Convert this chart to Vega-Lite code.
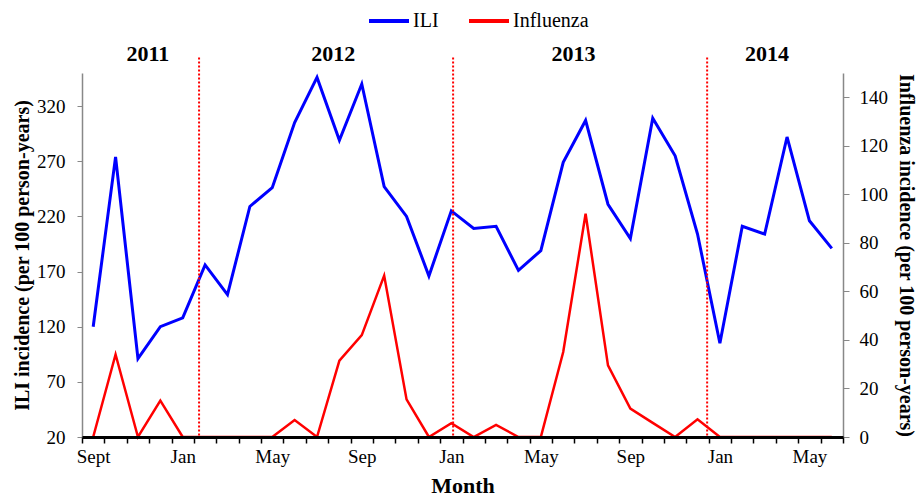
{
  "$schema": "https://vega.github.io/schema/vega-lite/v6.json",
  "width": 761,
  "height": 364,
  "autosize": {"type": "none"},
  "padding": {"left": 82, "top": 73, "right": 78, "bottom": 63},
  "background": "white",
  "config": {
    "view": {"stroke": null},
    "font": "Liberation Serif",
    "axis": {"labelFont": "Liberation Serif", "titleFont": "Liberation Serif", "labelColor": "black", "titleColor": "black", "grid": false},
    "legend": {"labelFont": "Liberation Serif"}
  },
  "datasets": {
    "monthly": [
      {"month": "2011-09", "ILI": 120, "Influenza": 0},
      {"month": "2011-10", "ILI": 274, "Influenza": 34},
      {"month": "2011-11", "ILI": 91, "Influenza": 0},
      {"month": "2011-12", "ILI": 120, "Influenza": 15},
      {"month": "2012-01", "ILI": 128, "Influenza": 0},
      {"month": "2012-02", "ILI": 176, "Influenza": 0},
      {"month": "2012-03", "ILI": 149, "Influenza": 0},
      {"month": "2012-04", "ILI": 229, "Influenza": 0},
      {"month": "2012-05", "ILI": 246, "Influenza": 0},
      {"month": "2012-06", "ILI": 305, "Influenza": 7},
      {"month": "2012-07", "ILI": 346, "Influenza": 0},
      {"month": "2012-08", "ILI": 289, "Influenza": 31.5},
      {"month": "2012-09", "ILI": 340, "Influenza": 42},
      {"month": "2012-10", "ILI": 247, "Influenza": 66.5},
      {"month": "2012-11", "ILI": 220, "Influenza": 15.5},
      {"month": "2012-12", "ILI": 166, "Influenza": 0},
      {"month": "2013-01", "ILI": 225, "Influenza": 5.7},
      {"month": "2013-02", "ILI": 209, "Influenza": 0},
      {"month": "2013-03", "ILI": 211, "Influenza": 5},
      {"month": "2013-04", "ILI": 171, "Influenza": 0},
      {"month": "2013-05", "ILI": 189, "Influenza": 0},
      {"month": "2013-06", "ILI": 269, "Influenza": 35},
      {"month": "2013-07", "ILI": 307, "Influenza": 92},
      {"month": "2013-08", "ILI": 231, "Influenza": 29.5},
      {"month": "2013-09", "ILI": 200, "Influenza": 11.7},
      {"month": "2013-10", "ILI": 309, "Influenza": 5.8},
      {"month": "2013-11", "ILI": 275, "Influenza": 0},
      {"month": "2013-12", "ILI": 204, "Influenza": 7.3},
      {"month": "2014-01", "ILI": 105, "Influenza": 0},
      {"month": "2014-02", "ILI": 211, "Influenza": 0},
      {"month": "2014-03", "ILI": 204, "Influenza": 0},
      {"month": "2014-04", "ILI": 292, "Influenza": 0},
      {"month": "2014-05", "ILI": 216, "Influenza": 0},
      {"month": "2014-06", "ILI": 191, "Influenza": 0}
    ]
  },
  "data": {"name": "monthly"},
  "layer": [
    {
      "layer": [
        {
          "mark": {"type": "line", "strokeWidth": 3},
          "encoding": {
            "x": {
              "field": "month",
              "type": "ordinal",
              "scale": {"type": "band", "paddingInner": 0, "paddingOuter": 0},
              "bandPosition": 0.5,
              "axis": {
                "title": "Month",
                "titleFontSize": 22,
                "titleFontWeight": "bold",
                "titlePadding": 9,
                "labelExpr": "datum.value == '2011-09' ? 'Sept' : substring(datum.value, 5, 7) == '01' ? 'Jan' : substring(datum.value, 5, 7) == '05' ? 'May' : substring(datum.value, 5, 7) == '09' ? 'Sep' : ''",
                "labelAngle": 0,
                "labelFontSize": 19,
                "labelPadding": 4,
                "labelOverlap": false,
                "tickBand": "extent",
                "tickSize": 6,
                "tickColor": "black",
                "tickWidth": 1.5,
                "domainColor": "black",
                "domainWidth": 3,
                "zindex": 1
              }
            },
            "y": {
              "field": "ILI",
              "type": "quantitative",
              "scale": {"domain": [20, 350], "nice": false, "zero": false},
              "axis": {
                "orient": "left",
                "title": "ILI incidence (per 100 person-years)",
                "titleFontSize": 20,
                "titleFontWeight": "bold",
                "titlePadding": 4,
                "values": [20, 70, 120, 170, 220, 270, 320],
                "labelFontSize": 19,
                "labelPadding": 12,
                "tickSize": 5,
                "tickColor": "#888888",
                "domainColor": "#888888",
                "domainWidth": 1.5
              }
            },
            "color": {
              "datum": "ILI",
              "scale": {"domain": ["ILI", "Influenza"], "range": ["#0000FF", "#FF0000"]},
              "legend": {
                "title": null,
                "orient": "none",
                "direction": "horizontal",
                "legendX": 285,
                "legendY": -74,
                "padding": 0,
                "symbolType": "stroke",
                "symbolSize": 1600,
                "symbolStrokeWidth": 4,
                "labelFontSize": 20,
                "labelColor": "black",
                "labelOffset": 2,
                "columnPadding": 22
              }
            }
          }
        },
        {
          "data": {"values": [{"month": "2012-02"}]},
          "mark": {"type": "rule", "color": "#FF0000", "strokeDash": [2, 2], "strokeWidth": 2},
          "encoding": {
            "x": {"field": "month", "type": "ordinal", "bandPosition": 0.23},
            "y": {"datum": 364},
            "y2": {"datum": 20}
          }
        },
        {
          "data": {"values": [{"month": "2013-01"}]},
          "mark": {"type": "rule", "color": "#FF0000", "strokeDash": [2, 2], "strokeWidth": 2},
          "encoding": {
            "x": {"field": "month", "type": "ordinal", "bandPosition": 0.58},
            "y": {"datum": 364},
            "y2": {"datum": 20}
          }
        },
        {
          "data": {"values": [{"month": "2013-12"}]},
          "mark": {"type": "rule", "color": "#FF0000", "strokeDash": [2, 2], "strokeWidth": 2},
          "encoding": {
            "x": {"field": "month", "type": "ordinal", "bandPosition": 0.93},
            "y": {"datum": 364},
            "y2": {"datum": 20}
          }
        },
        {
          "data": {"values": [{"month": "2011-11", "year": "2011"}]},
          "mark": {"type": "text", "fontSize": 22, "fontWeight": "bold", "baseline": "middle", "color": "black"},
          "encoding": {
            "x": {"field": "month", "type": "ordinal", "bandPosition": 0.94},
            "y": {"datum": 367},
            "text": {"field": "year"}
          }
        },
        {
          "data": {"values": [{"month": "2012-08", "year": "2012"}]},
          "mark": {"type": "text", "fontSize": 22, "fontWeight": "bold", "baseline": "middle", "color": "black"},
          "encoding": {
            "x": {"field": "month", "type": "ordinal", "bandPosition": 0.23},
            "y": {"datum": 367},
            "text": {"field": "year"}
          }
        },
        {
          "data": {"values": [{"month": "2013-06", "year": "2013"}]},
          "mark": {"type": "text", "fontSize": 22, "fontWeight": "bold", "baseline": "middle", "color": "black"},
          "encoding": {
            "x": {"field": "month", "type": "ordinal", "bandPosition": 0.96},
            "y": {"datum": 367},
            "text": {"field": "year"}
          }
        },
        {
          "data": {"values": [{"month": "2014-03", "year": "2014"}]},
          "mark": {"type": "text", "fontSize": 22, "fontWeight": "bold", "baseline": "middle", "color": "black"},
          "encoding": {
            "x": {"field": "month", "type": "ordinal", "bandPosition": 0.61},
            "y": {"datum": 367},
            "text": {"field": "year"}
          }
        }
      ]
    },
    {
      "mark": {"type": "line", "strokeWidth": 2.5},
      "encoding": {
        "x": {"field": "month", "type": "ordinal", "bandPosition": 0.5},
        "y": {
          "field": "Influenza",
          "type": "quantitative",
          "scale": {"domain": [0, 150], "nice": false},
          "axis": {
            "orient": "right",
            "title": "Influenza incidence (per 100 person-years)",
            "titleFontSize": 20,
            "titleFontWeight": "bold",
            "titlePadding": 8,
            "values": [0, 20, 40, 60, 80, 100, 120, 140],
            "labelFontSize": 19,
            "labelPadding": 10,
            "tickSize": 6,
            "tickColor": "#888888",
            "domainColor": "#888888",
            "domainWidth": 1.5
          }
        },
        "color": {"datum": "Influenza"}
      }
    }
  ],
  "resolve": {"scale": {"y": "independent"}}
}
